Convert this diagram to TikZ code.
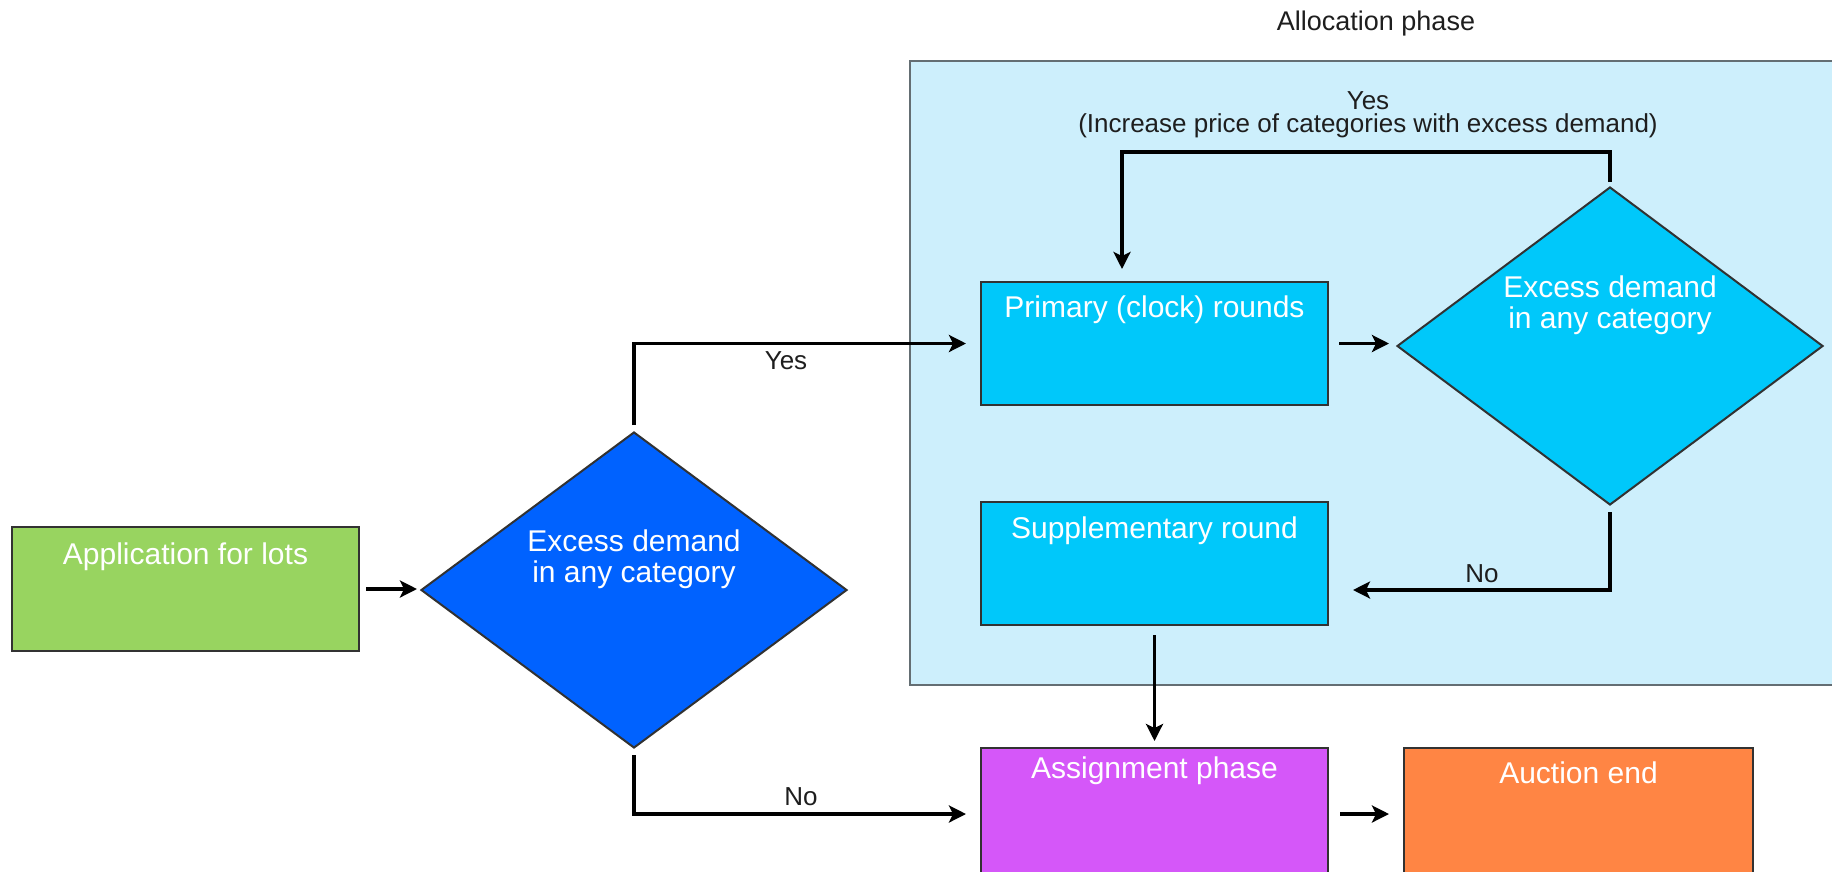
\documentclass[tikz,border=0pt]{standalone}
\usepackage{fontspec}
\setmainfont{Liberation Sans}
\usetikzlibrary{shapes.geometric,arrows.meta}
\definecolor{cgreen}{RGB}{152,212,96}
\definecolor{cblue}{RGB}{0,98,255}
\definecolor{cpanel}{RGB}{205,239,252}
\definecolor{ccyan}{RGB}{0,200,250}
\definecolor{cpurple}{RGB}{213,87,249}
\definecolor{corange}{RGB}{255,133,68}
\definecolor{cborder}{RGB}{50,50,50}
\definecolor{cpanelborder}{RGB}{100,110,115}
\definecolor{ctext}{RGB}{30,30,30}
\tikzset{
  boxnode/.style={draw=cborder, line width=2pt, rectangle, inner sep=0pt, minimum width=347pt},
  dianode/.style={draw=cborder, line width=2pt, diamond, inner sep=0pt, minimum width=426pt},
  boxlabel/.style={text=white, font=\fontsize{30}{31}\selectfont, anchor=center, align=center, text height=0.72em, text depth=0.22em},
  dialabel/.style={text=white, font=\fontsize{30}{31}\selectfont, anchor=center, align=center},
  flowlabel/.style={text=ctext, font=\fontsize{26}{26}\selectfont, inner sep=1pt},
  arr/.style={line width=3.5pt, draw=black, -{Stealth[length=17pt,width=17pt,inset=4pt]}},
}
\begin{document}
\begin{tikzpicture}[x=1pt,y=-1pt]
\useasboundingbox (0,0) rectangle (1832,871);
\clip (0,0) rectangle (1832,871);
\fill[white] (0,0) rectangle (1832,871);
% panel
\node[draw=cpanelborder, fill=cpanel, line width=2pt, rectangle, inner sep=0pt,
  minimum width=940pt, minimum height=624pt, anchor=north west] (panel) at (909,60) {};
\node[flowlabel, font=\fontsize{27}{27}\selectfont] (alloc) at (1376,24) {Allocation phase};
% boxes
\node[boxnode, fill=cgreen, minimum height=124pt] (app) at (185.5,589) {};
\node[boxlabel, yshift=-36pt] at (app.north) {Application for lots};
\node[dianode, fill=cblue, minimum height=316pt] (d1) at (634,590) {};
\node[dialabel, yshift=31pt] at (d1.center) {Excess demand\\in any category};
\node[boxnode, fill=ccyan, minimum height=123pt] (prim) at (1154.5,343.5) {};
\node[boxlabel, yshift=-34pt] at (prim.north) {Primary (clock) rounds};
\node[dianode, fill=ccyan, minimum height=318pt] (d2) at (1610,346) {};
\node[dialabel, yshift=41pt] at (d2.center) {Excess demand\\in any category};
\node[boxnode, fill=ccyan, minimum height=123pt] (supp) at (1154.5,563.5) {};
\node[boxlabel, yshift=-35pt] at (supp.north) {Supplementary round};
\node[boxnode, fill=cpurple, minimum height=132pt] (asg) at (1154.5,814) {};
\node[boxlabel, yshift=-29pt] at (asg.north) {Assignment phase};
\node[boxnode, fill=corange, minimum height=132pt, minimum width=349pt] (auc) at (1578.5,814) {};
\node[boxlabel, yshift=-34pt] at (auc.north) {Auction end};
% connectors
\draw[arr, shorten <=6pt, shorten >=3pt] (app.east) -- (app.east -| d1.west);
\draw[arr, shorten <=6pt, shorten >=14pt] (d1.north) |- (prim.west);
\node[flowlabel] (yes1) at (786,361) {Yes};
\draw[arr, shorten <=10pt, shorten >=7pt] (prim.east) -- (prim.east -| d2.west);
\coordinate (loopx) at (1122,282);
\draw[arr, shorten >=13pt] ([yshift=4pt]d2.north) |- (1122,152) -- (loopx);
\node[flowlabel, align=center, font=\fontsize{26}{23}\selectfont] (incr) at (1368,115) {Yes\\(Increase price of categories with excess demand)};
\coordinate (noend) at (1328,590);
\draw[arr, shorten <=6pt, shorten >=25pt] (d2.south) |- (noend);
\node[flowlabel] (no2) at (1482,574) {No};
\draw[arr, shorten <=9pt, shorten >=6pt] (supp.south) -- (asg.north);
\draw[arr, shorten <=11pt, shorten >=14pt] (asg.east) -- (auc.west);
\draw[arr, shorten <=6pt, shorten >=14pt] (d1.south) |- (asg.west);
\node[flowlabel] (no1) at (801,797) {No};
\end{tikzpicture}
\end{document}
